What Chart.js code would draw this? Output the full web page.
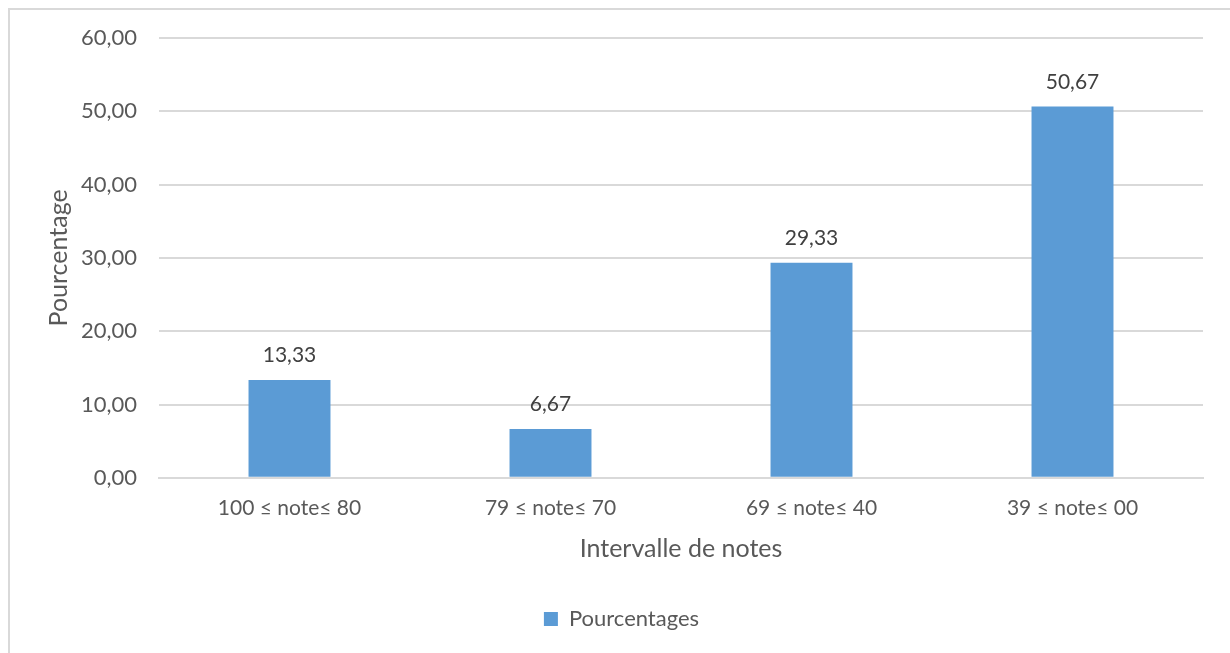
<!DOCTYPE html>
<html>
<head>
<meta charset="utf-8">
<script src="https://cdn.jsdelivr.net/npm/chart.js@4.4.1/dist/chart.umd.min.js"></script>
<style>
  html, body { margin: 0; padding: 0; background: #ffffff; overflow: hidden; }
  #wrap { position: relative; width: 1230px; height: 653px; }
</style>
</head>
<body>
<div id="wrap"><canvas id="chart" width="1230" height="653"></canvas></div>
<script>
// Répartition des notes par intervalle
const categories = ['100 ≤ note≤ 80', '79 ≤ note≤ 70', '69 ≤ note≤ 40', '39 ≤ note≤ 00'];
const pourcentages = [13.33, 6.67, 29.33, 50.67];
const seriesName = 'Pourcentages';
const yMin = 0, yMax = 60, yStep = 10;

const FONT = 'Lato, "Open Sans", sans-serif';
const fmt = v => v.toFixed(2).replace('.', ',');

// Cadre gris clair autour du graphique
const framePlugin = {
  id: 'frame',
  beforeDraw(chart) {
    const ctx = chart.ctx;
    ctx.save();
    ctx.strokeStyle = '#d9d9d9';
    ctx.lineWidth = 2;
    ctx.beginPath();
    ctx.moveTo(9, chart.height);
    ctx.lineTo(9, 9);
    ctx.lineTo(chart.width, 9);
    ctx.stroke();
    ctx.restore();
  }
};

// Étiquettes de valeur au-dessus des barres
const valueLabels = {
  id: 'valueLabels',
  afterDatasetsDraw(chart) {
    const ctx = chart.ctx;
    const meta = chart.getDatasetMeta(0);
    ctx.save();
    ctx.font = '21px ' + FONT;
    ctx.fillStyle = '#404040';
    ctx.textAlign = 'center';
    ctx.textBaseline = 'bottom';
    meta.data.forEach((bar, i) => {
      ctx.fillText(fmt(chart.data.datasets[0].data[i]), bar.x, bar.y - 14);
    });
    ctx.restore();
  }
};

new Chart(document.getElementById('chart'), {
  type: 'bar',
  data: {
    labels: categories,
    datasets: [{
      label: seriesName,
      data: pourcentages,
      backgroundColor: '#5b9bd5',
      borderWidth: 0,
      categoryPercentage: 1.0,
      barPercentage: 0.314
    }]
  },
  options: {
    responsive: false,
    animation: false,
    devicePixelRatio: 1,
    layout: { padding: { left: 40, right: 27, top: 38, bottom: 13 } },
    plugins: {
      legend: {
        position: 'bottom',
        labels: {
          boxWidth: 14,
          boxHeight: 14,
          padding: 10,
          color: '#595959',
          font: { family: FONT, size: 22 }
        }
      },
      tooltip: { enabled: false }
    },
    scales: {
      x: {
        grid: { display: false, drawTicks: false },
        border: { color: '#d9d9d9', width: 2 },
        ticks: {
          color: '#595959',
          padding: 18,
          font: { family: FONT, size: 21 },
          maxRotation: 0
        },
        title: {
          display: true,
          text: 'Intervalle de notes',
          color: '#595959',
          font: { family: FONT, size: 25 },
          padding: { top: -5, bottom: 34 }
        }
      },
      y: {
        min: yMin,
        max: yMax,
        grid: { color: '#d9d9d9', lineWidth: 2, drawTicks: false },
        border: { display: false },
        ticks: {
          stepSize: yStep,
          color: '#595959',
          padding: 22,
          font: { family: FONT, size: 22 },
          callback: v => fmt(v)
        },
        title: {
          display: true,
          text: 'Pourcentage',
          color: '#595959',
          font: { family: FONT, size: 25 },
          padding: { top: 4, bottom: 4 }
        },
        afterFit(scale) { scale.width = 159 - 40; }
      }
    }
  },
  plugins: [framePlugin, valueLabels]
});
</script>
</body>
</html>
